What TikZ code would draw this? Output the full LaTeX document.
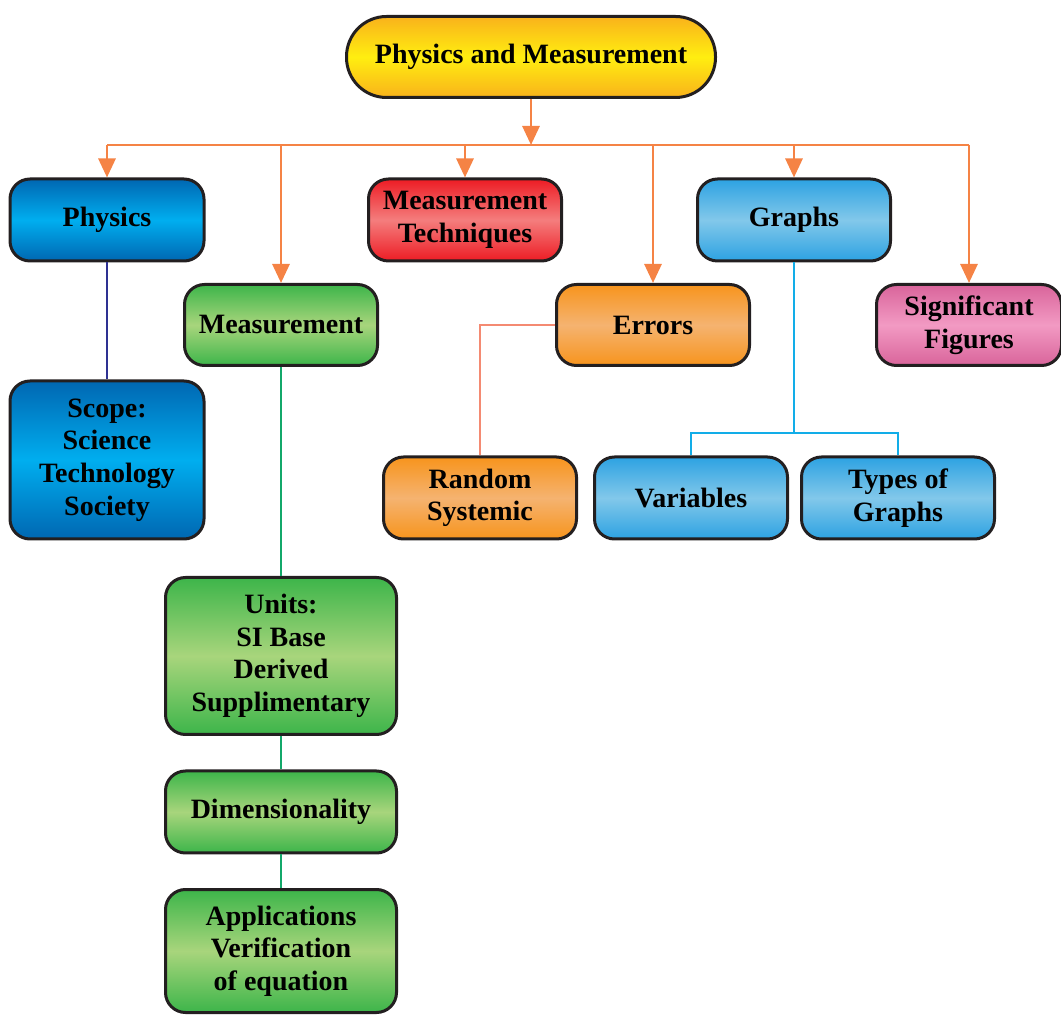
\documentclass[tikz,border=0pt]{standalone}
\usepackage{fontspec}
\setmainfont{Liberation Serif}
\usetikzlibrary{arrows.meta}

\definecolor{edgegray}{HTML}{231F20}
\definecolor{linkorange}{HTML}{F58345}
\definecolor{linknavy}{HTML}{2E3192}
\definecolor{linkgreen}{HTML}{13A86A}
\definecolor{linksalmon}{HTML}{F48A72}
\definecolor{linkcyan}{HTML}{12ADE8}
\definecolor{yellowdark}{HTML}{F9B21B}
\definecolor{yellowlight}{HTML}{FFEE10}
\definecolor{physdark}{HTML}{0067B2}
\definecolor{physlight}{HTML}{00AEEF}
\definecolor{greendark}{HTML}{3DB54A}
\definecolor{greenlight}{HTML}{A8D57C}
\definecolor{reddark}{HTML}{ED1C24}
\definecolor{redlight}{HTML}{F47D7D}
\definecolor{orangedark}{HTML}{F7941D}
\definecolor{orangelight}{HTML}{F5B370}
\definecolor{graphdark}{HTML}{2DA2E2}
\definecolor{graphlight}{HTML}{82C8EA}
\definecolor{pinkdark}{HTML}{D9649A}
\definecolor{pinklight}{HTML}{F29AC3}

\tikzset{
	box/.style={draw=edgegray, line width=1.5pt, rounded corners=10pt, align=center,
		inner sep=2pt, font=\fontsize{14}{16.3}\selectfont\bfseries},
	shadebox/.style 2 args={box, top color=#1, bottom color=#1, middle color=#2},
	link/.style={line width=1.45pt, color=#1},
	tiplink/.style={link=linkorange, -{Triangle[length=9.5pt,width=8.5pt]}},
}

\begin{document}
\begin{tikzpicture}[x=0.5pt, y=-0.5pt]
		%%%%% START %%%%%
		\useasboundingbox (0, 0) rectangle (1061, 1015);
		
		\node[shadebox={yellowdark}{yellowlight}, rounded corners=20pt, minimum width=184.5pt, minimum height=40.5pt] (top) at (531, 57) {Physics and Measurement};
		
		\node[shadebox={physdark}{physlight}, minimum width=97pt, minimum height=41pt] (phys) at (107, 220) {Physics};
		\node[shadebox={greendark}{greenlight}, minimum width=96.5pt, minimum height=40.5pt] (meas) at (281, 325) {Measurement};
		\node[shadebox={reddark}{redlight}, minimum width=96.5pt, minimum height=41pt] (tech) at (465, 220) {Measurement\\Techniques};
		\node[shadebox={orangedark}{orangelight}, minimum width=96.5pt, minimum height=40.5pt] (err) at (653, 325) {Errors};
		\node[shadebox={graphdark}{graphlight}, minimum width=96.5pt, minimum height=41pt] (graph) at (794, 220) {Graphs};
		\node[shadebox={pinkdark}{pinklight}, minimum width=92.5pt, minimum height=40.5pt] (sig) at (969, 325) {Significant\\Figures};
		
		\node[shadebox={physdark}{physlight}, minimum width=97pt, minimum height=79pt] (scope) at (107, 460) {Scope:\\Science\\Technology\\Society};
		\node[shadebox={orangedark}{orangelight}, minimum width=96.5pt, minimum height=41pt] (rand) at (480, 498) {Random\\Systemic};
		\node[shadebox={graphdark}{graphlight}, minimum width=96.5pt, minimum height=41pt] (var) at (691, 498) {Variables};
		\node[shadebox={graphdark}{graphlight}, minimum width=96.5pt, minimum height=41pt] (types) at (898, 498) {Types of\\Graphs};
		
		\node[shadebox={greendark}{greenlight}, minimum width=115.5pt, minimum height=78.5pt] (units) at (281, 656) {Units:\\SI Base\\Derived\\Supplimentary};
		\node[shadebox={greendark}{greenlight}, minimum width=115.5pt, minimum height=41pt] (dim) at (281, 812) {Dimensionality};
		\node[shadebox={greendark}{greenlight}, minimum width=115.5pt, minimum height=61.5pt] (app) at (281, 951) {Applications\\Verification\\of equation};
		
		% orange tree from the title
		\coordinate (bus) at (531, 145);
		\draw[tiplink] (top) -- (bus);
		\draw[link=linkorange] (phys.north |- bus) -- (sig.north |- bus);
		\foreach \child in {phys, meas, tech, err, graph, sig}
			\draw[tiplink] (\child.north |- bus) -- (\child.north);
		
		% branches
		\draw[link=linknavy] (phys) -- (scope);
		\draw[link=linkgreen] (meas) -- (units);
		\draw[link=linkgreen] (units) -- (dim);
		\draw[link=linkgreen] (dim) -- (app);
		\draw[link=linksalmon] (err.west) -| (rand.north);
		
		\coordinate (gsplit) at (794, 433);
		\draw[link=linkcyan] (graph) -- (gsplit);
		\draw[link=linkcyan] (var.north) |- (gsplit) -| (types.north);
		
		%%%%% END %%%%%
	\end{tikzpicture}
\end{document}
